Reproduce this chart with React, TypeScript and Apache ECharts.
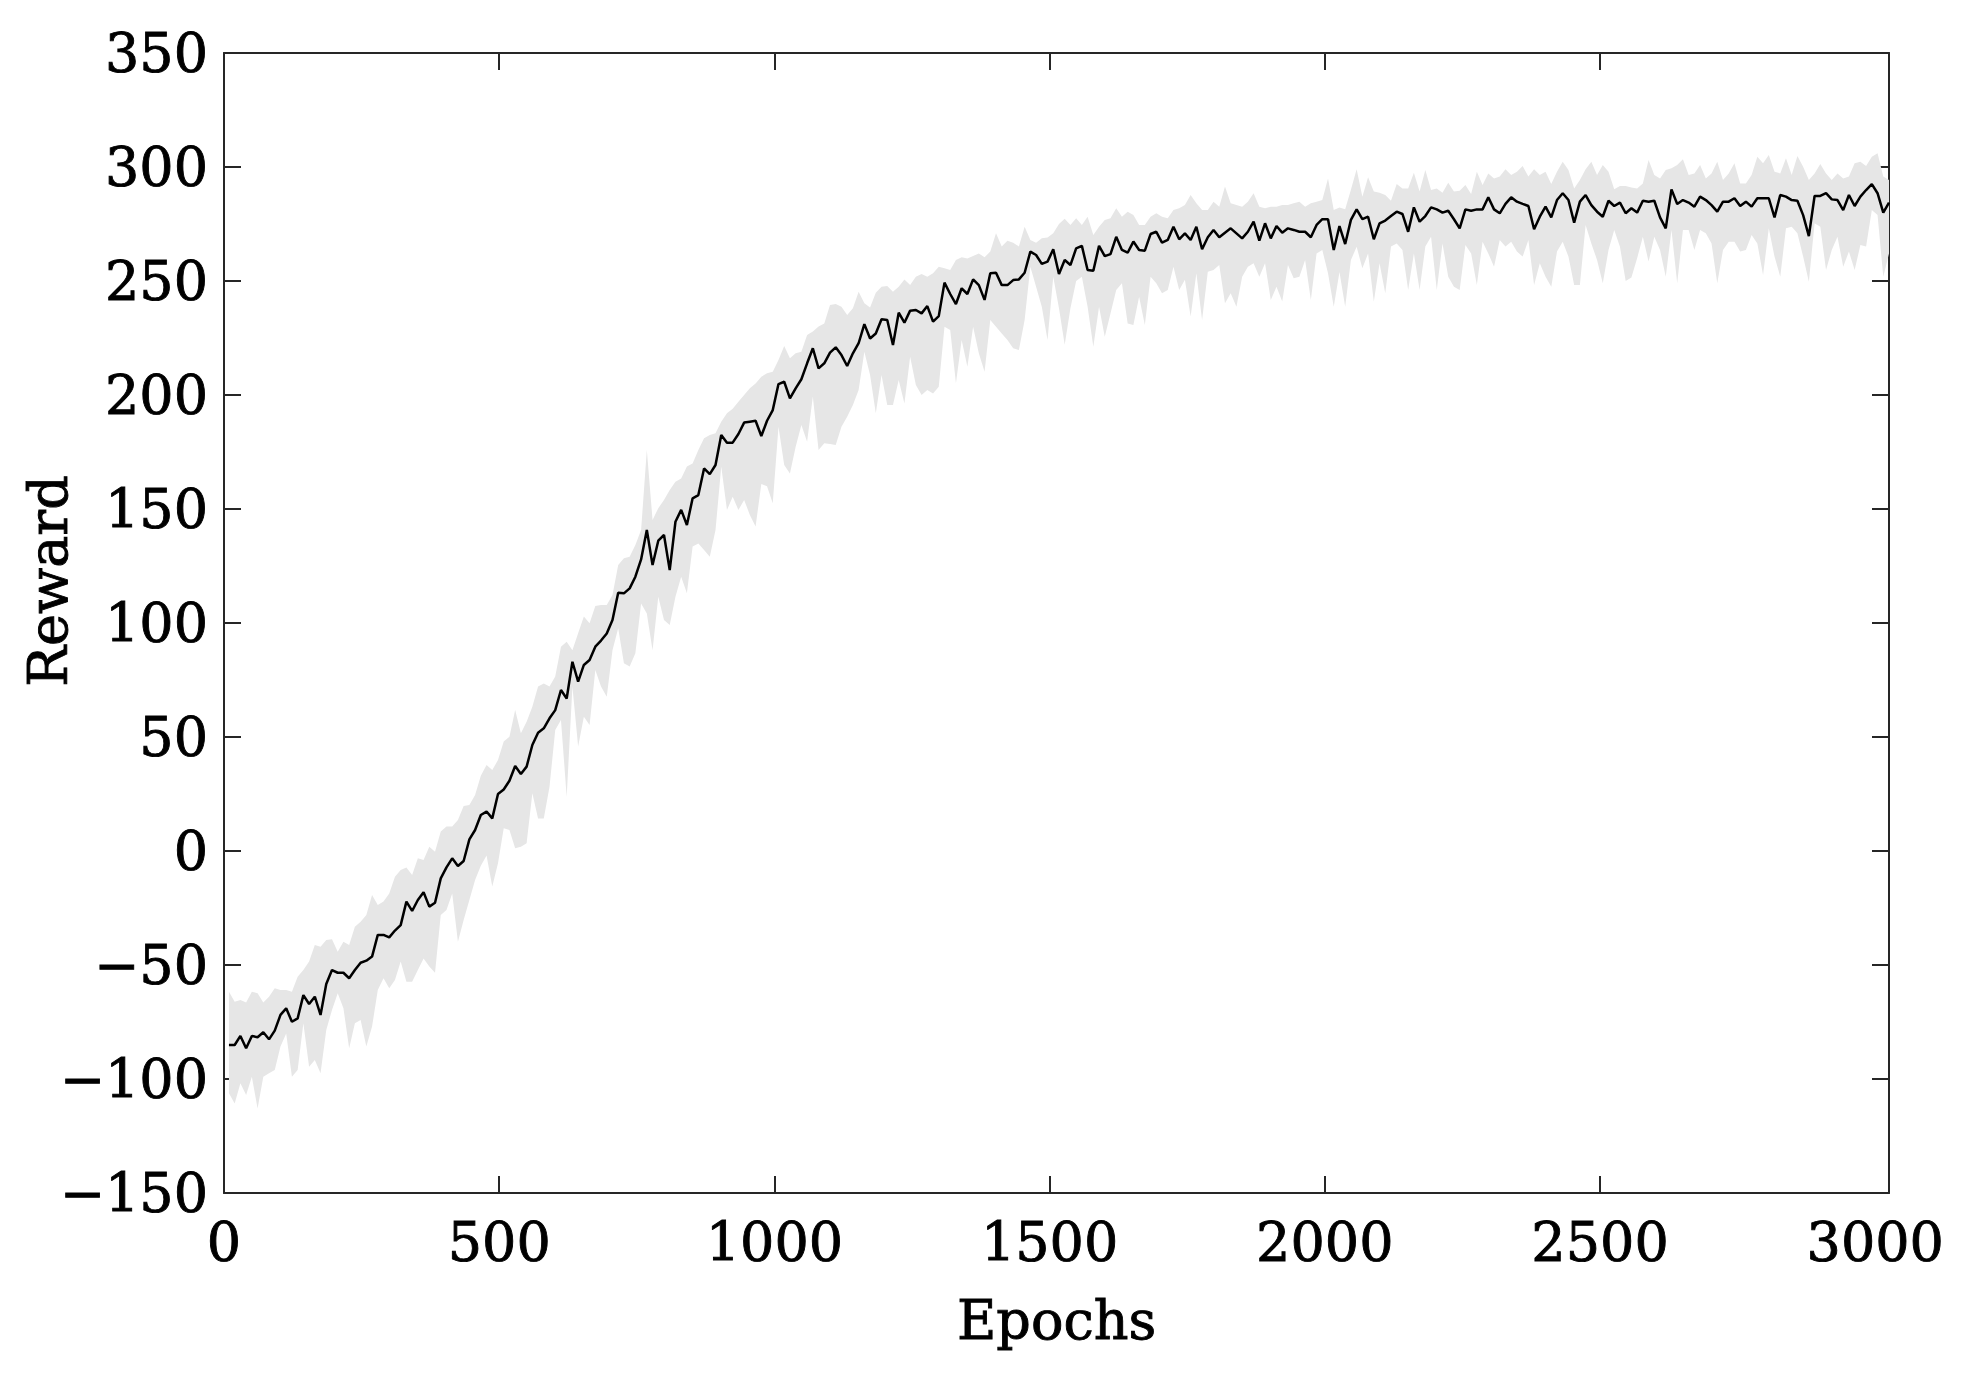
import React, { useEffect, useRef } from 'react';
import * as echarts from 'echarts';

// Epoch sampling of the logged curve (first logged epoch and spacing)
const EPOCH_START = 9;
const EPOCH_STEP = 10.4;

// Mean reward per logged epoch
const MEAN = [
  -85.1, -85.1, -81.1, -86.5, -81.1, -81.7, -79.5, -82.6, -78.8, -71.9,
  -69.0, -74.9, -73.4, -63.2, -67.1, -63.9, -71.9, -58.3, -52.2, -53.4,
  -53.4, -55.8, -52.2, -49.0, -48.1, -46.3, -36.8, -36.8, -37.9, -34.9,
  -32.5, -22.2, -26.3, -21.5, -18.1, -24.4, -22.7, -12.0, -7.2, -3.2,
  -6.6, -4.4, 5.1, 9.2, 15.8, 17.3, 14.3, 25.0, 27.0, 30.8,
  37.3, 33.8, 37.0, 46.5, 51.9, 53.8, 58.2, 61.8, 70.6, 66.9,
  83.0, 74.3, 81.6, 83.8, 89.6, 92.3, 95.4, 101.3, 113.3, 113.0,
  115.2, 120.3, 127.9, 140.8, 125.4, 136.1, 138.6, 123.2, 144.4, 149.6,
  143.0, 154.7, 156.1, 167.8, 165.3, 169.3, 182.5, 179.1, 179.1, 182.9,
  187.9, 188.3, 188.7, 182.0, 188.7, 193.4, 204.8, 205.8, 198.5, 202.9,
  206.9, 213.9, 220.5, 211.7, 213.9, 218.6, 220.9, 217.5, 212.7, 218.3,
  222.7, 231.1, 224.8, 227.0, 233.2, 232.9, 221.9, 236.1, 231.7, 237.0,
  237.3, 235.8, 239.0, 232.2, 234.6, 249.3, 244.3, 239.9, 246.8, 244.3,
  250.7, 248.2, 241.7, 253.4, 253.6, 248.2, 248.2, 250.4, 250.7, 253.6,
  262.9, 261.4, 257.5, 258.5, 263.9, 253.1, 259.2, 257.0, 264.3, 265.4,
  254.8, 254.5, 265.4, 260.9, 261.8, 269.4, 263.6, 262.4, 267.3, 263.6,
  263.3, 270.6, 271.6, 266.8, 268.0, 273.8, 268.3, 270.9, 268.0, 273.8,
  263.9, 269.2, 272.4, 269.2, 271.2, 273.1, 270.9, 268.7, 271.6, 276.0,
  267.7, 275.3, 268.7, 274.1, 271.2, 273.1, 272.4, 271.6, 271.6, 269.2,
  274.6, 277.1, 277.1, 263.6, 274.1, 266.2, 276.8, 281.4, 277.1, 278.2,
  268.3, 275.3, 276.5, 278.5, 280.4, 279.4, 271.6, 282.3, 276.0, 278.5,
  282.3, 281.4, 280.0, 280.8, 277.1, 273.1, 281.4, 280.8, 281.4, 281.4,
  286.7, 281.4, 279.7, 283.8, 286.7, 284.8, 283.8, 282.9, 272.7, 278.2,
  282.6, 277.9, 285.5, 288.5, 285.5, 275.6, 284.8, 287.7, 283.3, 280.4,
  278.2, 285.2, 282.9, 284.4, 279.7, 281.9, 280.0, 285.2, 284.8, 285.2,
  277.9, 273.1, 290.2, 283.8, 285.5, 284.4, 282.6, 287.0, 285.5, 283.3,
  280.4, 284.8, 284.8, 286.3, 282.9, 284.8, 282.6, 286.3, 286.3, 286.3,
  277.9, 287.7, 287.0, 285.5, 285.2, 278.9, 269.7, 287.3, 287.3, 288.5,
  285.8, 285.5, 281.1, 287.7, 282.9, 287.0, 289.9, 292.5, 288.5, 280.0,
  284.4,
];

// Upper edge of the shaded band
const UPPER = [
  -61.7, -66.1, -65.4, -66.5, -61.7, -62.4, -66.5, -63.9, -60.2, -61.0,
  -61.0, -61.7, -55.1, -52.2, -48.5, -41.2, -42.0, -39.0, -38.7, -44.2,
  -39.8, -41.2, -33.2, -31.0, -28.1, -19.3, -23.7, -22.2, -18.6, -11.3,
  -8.3, -7.2, -10.5, -3.2, -3.9, 1.9, -0.3, 8.5, 10.7, 10.7,
  13.6, 19.7, 20.2, 24.6, 33.0, 37.7, 35.5, 39.9, 48.0, 50.1,
  61.8, 51.6, 56.7, 63.3, 72.1, 73.5, 72.1, 76.5, 89.6, 91.8,
  88.1, 95.5, 102.8, 99.9, 107.5, 107.9, 107.9, 112.3, 125.4, 128.4,
  129.1, 134.2, 140.8, 175.9, 145.2, 150.3, 154.0, 158.3, 162.0, 163.4,
  168.6, 170.0, 175.9, 181.0, 182.5, 183.2, 188.3, 192.0, 194.0, 197.0,
  200.0, 203.0, 205.0, 208.0, 209.5, 210.2, 215.3, 221.5, 216.1, 218.3,
  219.0, 226.3, 227.8, 230.0, 231.4, 239.5, 239.9, 238.7, 235.1, 238.0,
  245.3, 240.2, 238.4, 244.9, 247.5, 247.8, 245.3, 247.5, 250.7, 248.2,
  251.9, 253.1, 251.9, 253.4, 256.3, 255.6, 254.8, 259.2, 260.4, 259.9,
  261.0, 262.1, 260.4, 262.9, 270.9, 265.1, 267.7, 266.8, 265.1, 273.8,
  268.0, 266.8, 268.7, 269.1, 270.9, 275.0, 277.3, 274.6, 277.5, 274.6,
  278.2, 270.2, 273.8, 276.8, 277.5, 281.9, 278.2, 280.4, 279.0, 274.6,
  274.6, 278.2, 279.7, 278.2, 277.5, 281.1, 281.9, 283.3, 287.7, 284.1,
  281.1, 281.1, 284.8, 282.6, 291.4, 284.1, 283.3, 282.6, 284.8, 288.5,
  282.6, 281.9, 282.6, 282.6, 283.3, 283.3, 284.1, 284.8, 282.6, 284.1,
  284.8, 285.5, 295.0, 281.1, 282.2, 281.5, 290.0, 299.0, 287.0, 295.5,
  289.2, 288.7, 287.7, 285.2, 292.5, 290.6, 290.6, 297.5, 289.2, 298.7,
  289.9, 290.6, 288.7, 293.1, 289.2, 289.6, 292.1, 288.2, 297.9, 292.1,
  297.2, 295.0, 295.8, 299.0, 296.5, 297.9, 300.4, 295.8, 299.0, 296.5,
  297.9, 292.5, 297.9, 302.3, 298.7, 290.6, 294.3, 299.0, 302.3, 296.5,
  300.9, 297.9, 290.2, 291.7, 291.7, 291.0, 290.6, 292.8, 303.1, 296.5,
  295.0, 298.7, 299.4, 300.9, 303.4, 296.5, 297.2, 300.9, 295.0, 297.2,
  302.3, 294.3, 297.2, 301.6, 292.8, 292.8, 296.5, 304.5, 301.6, 305.3,
  297.9, 297.2, 303.8, 296.5, 304.8, 300.1, 294.3, 297.2, 301.3, 297.2,
  294.3, 297.2, 295.0, 295.8, 301.6, 302.3, 300.4, 304.5, 306.0, 295.8,
  294.3,
];

// Lower edge of the shaded band
const LOWER = [
  -106.3, -110.7, -101.9, -107.0, -99.0, -112.9, -99.0, -97.5, -96.1, -85.8,
  -80.0, -99.0, -96.1, -75.6, -94.6, -91.7, -97.5, -78.5, -69.7, -62.4,
  -69.0, -86.5, -75.6, -74.1, -85.8, -77.0, -61.0, -55.8, -60.2, -56.6,
  -48.5, -57.3, -57.3, -52.2, -47.1, -50.7, -53.4, -28.1, -25.9, -18.6,
  -39.8, -30.3, -21.5, -12.7, -6.5, -2.0, -15.6, -5.4, 10.0, 9.2,
  1.2, 1.9, 3.4, 25.3, 14.3, 14.3, 28.2, 53.1, 57.5, 23.8,
  72.1, 45.8, 58.9, 55.3, 79.4, 72.1, 67.7, 88.1, 97.7, 82.3,
  80.9, 86.7, 108.6, 104.2, 88.1, 111.5, 101.3, 99.1, 111.5, 120.3,
  113.0, 133.5, 134.9, 132.0, 129.1, 140.8, 168.6, 149.6, 155.4, 149.6,
  154.0, 147.4, 142.3, 161.0, 160.0, 152.5, 186.1, 169.3, 165.6, 177.3,
  186.8, 179.5, 199.3, 175.9, 178.8, 178.5, 178.1, 186.1, 190.5, 195.6,
  202.2, 219.0, 208.8, 192.0, 208.8, 195.6, 195.6, 206.6, 196.3, 216.8,
  204.4, 200.0, 202.2, 200.7, 203.6, 229.9, 228.5, 205.1, 224.1, 212.4,
  229.9, 218.3, 210.2, 232.9, 229.9, 227.0, 224.1, 220.5, 219.7, 232.9,
  256.3, 247.5, 238.7, 224.1, 251.9, 238.0, 222.0, 238.0, 250.0, 251.9,
  238.7, 221.2, 238.7, 225.6, 235.8, 246.1, 249.0, 231.4, 230.7, 243.1,
  230.7, 251.9, 249.0, 244.6, 246.1, 256.3, 246.1, 250.5, 234.4, 253.4,
  232.9, 254.1, 254.8, 257.0, 240.2, 244.6, 238.7, 251.9, 256.3, 257.8,
  251.9, 257.8, 241.7, 247.5, 241.0, 257.0, 251.2, 251.9, 259.2, 241.7,
  262.1, 263.6, 253.4, 238.7, 254.0, 238.7, 259.2, 265.0, 255.6, 262.1,
  240.9, 257.8, 244.6, 265.1, 266.5, 263.6, 246.1, 262.1, 246.1, 265.1,
  269.4, 246.1, 266.5, 251.9, 247.5, 246.1, 265.8, 262.1, 248.2, 267.2,
  262.1, 256.3, 268.0, 265.1, 267.2, 262.9, 260.7, 268.0, 248.2, 257.8,
  251.9, 247.5, 262.9, 267.2, 260.7, 248.2, 248.2, 274.6, 266.5, 259.2,
  249.0, 263.6, 272.4, 265.0, 250.0, 251.5, 260.0, 269.4, 258.5, 269.4,
  263.6, 251.9, 272.4, 249.0, 272.4, 272.4, 263.6, 272.4, 270.9, 266.5,
  249.0, 263.6, 267.2, 267.2, 262.9, 263.6, 270.2, 266.5, 252.6, 273.1,
  260.7, 251.9, 273.1, 273.8, 270.9, 260.7, 249.7, 275.3, 273.8, 254.8,
  263.6, 269.4, 256.3, 262.9, 254.8, 265.8, 265.1, 281.1, 278.9, 251.9,
  262.1,
];

// Axis settings
const X_MIN = 0;
const X_MAX = 3025;
const X_INTERVAL = 500;
const X_TICK_LABELS = [0, 500, 1000, 1500, 2000, 2500, 3000];
const X_TICK_MARKS = [500, 1000, 1500, 2000, 2500];
const Y_MIN = -150;
const Y_MAX = 350;
const Y_INTERVAL = 50;
const X_TITLE = 'Epochs';
const Y_TITLE = 'Reward';

const FONT = "'DejaVu Serif', 'Liberation Serif', serif";
const FONT_SIZE = 54;
const AXIS_COLOR = '#262626';

export default function App() {
  const ref = useRef<HTMLDivElement>(null);

  useEffect(() => {
    document.body.style.margin = '0';
    if (!ref.current) return;
    const chart = echarts.init(ref.current, undefined, { renderer: 'svg' });

    const epochs = MEAN.map((_, i) => EPOCH_START + i * EPOCH_STEP);
    const bandData = MEAN.map((_, i) => [epochs[i], LOWER[i], UPPER[i]]);
    const meanData = MEAN.map((v, i) => [epochs[i], v]);

    const yTick = {
      show: true,
      inside: true,
      length: 17,
      lineStyle: { color: AXIS_COLOR, width: 2 },
    };
    const xTick = { ...yTick, customValues: X_TICK_MARKS };
    const line = { show: true, onZero: false, lineStyle: { color: AXIS_COLOR, width: 2 } };
    const labelStyle = {
      fontFamily: FONT,
      fontSize: FONT_SIZE,
      color: '#000',
      textBorderColor: '#000',
      textBorderWidth: 0.9,
    };

    chart.setOption({
      animation: false,
      backgroundColor: '#fff',
      grid: { left: 224, right: 78, top: 53, bottom: 192 },
      xAxis: [
        {
          type: 'value',
          min: X_MIN,
          max: X_MAX,
          interval: X_INTERVAL,
          position: 'bottom',
          axisLine: line,
          axisTick: xTick,
          splitLine: { show: false },
          axisLabel: {
            ...labelStyle,
            margin: 22,
            customValues: X_TICK_LABELS,
            formatter: (v: number) => String(v),
          },
          name: X_TITLE,
          nameLocation: 'middle',
          nameGap: 100,
          nameTextStyle: { ...labelStyle },
        },
        {
          type: 'value',
          min: X_MIN,
          max: X_MAX,
          interval: X_INTERVAL,
          position: 'top',
          axisLine: line,
          axisTick: xTick,
          splitLine: { show: false },
          axisLabel: { show: false },
        },
      ],
      yAxis: [
        {
          type: 'value',
          min: Y_MIN,
          max: Y_MAX,
          interval: Y_INTERVAL,
          position: 'left',
          axisLine: line,
          axisTick: yTick,
          splitLine: { show: false },
          axisLabel: {
            ...labelStyle,
            margin: 16,
            formatter: (v: number) => (v < 0 ? '\u2212' + Math.abs(v) : String(v)),
          },
        },
        {
          type: 'value',
          min: Y_MIN,
          max: Y_MAX,
          interval: Y_INTERVAL,
          position: 'right',
          axisLine: line,
          axisTick: yTick,
          splitLine: { show: false },
          axisLabel: { show: false },
        },
      ],
      graphic: [
        {
          type: 'text',
          x: 48,
          y: 581,
          rotation: Math.PI / 2,
          style: {
            text: Y_TITLE,
            font: `${FONT_SIZE}px ${FONT}`,
            fill: '#000',
            stroke: '#000',
            lineWidth: 0.9,
            align: 'center',
            verticalAlign: 'middle',
          },
        },
      ],
      series: [
        {
          name: 'band',
          type: 'custom',
          data: bandData,
          encode: { x: 0, y: [1, 2] },
          silent: true,
          z: 1,
          renderItem: (params: any, api: any) => {
            if (params.dataIndex !== 0) return null;
            const pts: number[][] = [];
            for (let i = 0; i < bandData.length; i++) {
              pts.push(api.coord([bandData[i][0], bandData[i][2]]));
            }
            for (let i = bandData.length - 1; i >= 0; i--) {
              pts.push(api.coord([bandData[i][0], bandData[i][1]]));
            }
            return {
              type: 'polygon',
              shape: { points: pts },
              style: { fill: '#e6e6e6', stroke: 'none' },
            };
          },
        },
        {
          name: 'mean',
          type: 'line',
          data: meanData,
          symbol: 'none',
          lineStyle: { color: '#000', width: 2.5 },
          z: 3,
        },
      ],
    });

    return () => chart.dispose();
  }, []);

  return <div ref={ref} style={{ width: 1967, height: 1385 }} />;
}
